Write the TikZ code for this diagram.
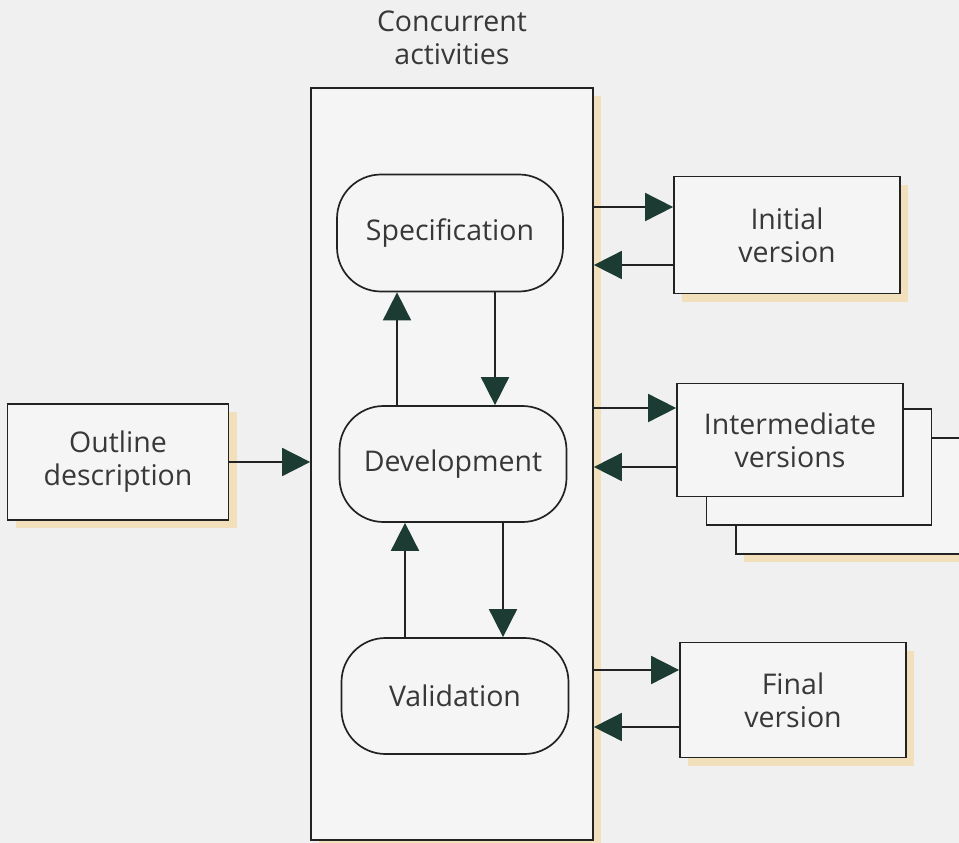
\documentclass[tikz,border=0pt]{standalone}
\usepackage{fontspec}
\setmainfont{Open Sans}
\usetikzlibrary{arrows.meta,calc}
\definecolor{paper}{HTML}{F0F0F0}
\definecolor{boxfill}{HTML}{F5F5F5}
\definecolor{ink}{HTML}{222222}
\definecolor{txt}{HTML}{383838}
\definecolor{tip}{HTML}{1C3B33}
\definecolor{shade}{HTML}{F2DFBC}
\tikzset{
  lbl/.style={font=\fontsize{28.5}{33}\selectfont, text=txt, align=center},
  box/.style={lbl, draw=ink, line width=1.7pt, fill=boxfill, inner sep=0pt},
  pill/.style={box, rounded corners=44pt},
  shadowed/.style={preaction={draw=none, fill=shade, transform canvas={xshift=8pt, yshift=-8pt}}},
  arr/.style={draw=ink, line width=1.7pt,
    -{Triangle[length=28pt, width=28pt, fill=tip, color=tip]}},
}
\begin{document}
\begin{tikzpicture}[x=1pt, y=-1pt]
  \useasboundingbox[fill=paper] (0,0) rectangle (959,843);

  % title of the central column
  \node[lbl] (title) at (452,38) {Concurrent\\activities};

  % central column holding the three activities
  \node[box, shadowed, minimum width=282pt, minimum height=752pt] (conc) at (452,464) {};
  \node[pill, minimum width=226pt, minimum height=117pt] (spec) at (450,233) {Specification};
  \node[pill, minimum width=227pt, minimum height=116pt] (dev) at (453,464) {Development};
  \node[pill, minimum width=227pt, minimum height=116pt] (val) at (455,696) {Validation};

  % input
  \node[box, shadowed, minimum width=221pt, minimum height=116pt] (outl) at (118,462) {Outline\\description};

  % outputs
  \node[box, shadowed, minimum width=226pt, minimum height=117pt] (init) at (787,235) {Initial\\version};
  \node[box, shadowed, minimum width=226pt, minimum height=116pt] (inter3) at (849,496) {};
  \node[box, minimum width=225pt, minimum height=116pt] (inter2) at (819,467) {};
  \node[box, minimum width=226pt, minimum height=113pt] (inter) at (790,440) {Intermediate\\versions};
  \node[box, shadowed, minimum width=226pt, minimum height=115pt] (final) at (793,700) {Final\\version};

  % flows between activities
  \draw[arr] (dev.north -| 397,0) -- (spec.south -| 397,0);
  \draw[arr] (spec.south -| 495,0) -- (dev.north -| 495,0);
  \draw[arr] (val.north -| 405,0) -- (dev.south -| 405,0);
  \draw[arr] (dev.south -| 503,0) -- (val.north -| 503,0);

  % input flow
  \draw[arr] (outl.east) -- (outl.east -| conc.west);

  % output flows
  \draw[arr] (conc.east |- 0,207) -- (init.west |- 0,207);
  \draw[arr] (init.west |- 0,265) -- (conc.east |- 0,265);
  \draw[arr] (conc.east |- 0,408) -- (inter.west |- 0,408);
  \draw[arr] (inter.west |- 0,467) -- (conc.east |- 0,467);
  \draw[arr] (conc.east |- 0,670) -- (final.west |- 0,670);
  \draw[arr] (final.west |- 0,727) -- (conc.east |- 0,727);
\end{tikzpicture}
\end{document}
